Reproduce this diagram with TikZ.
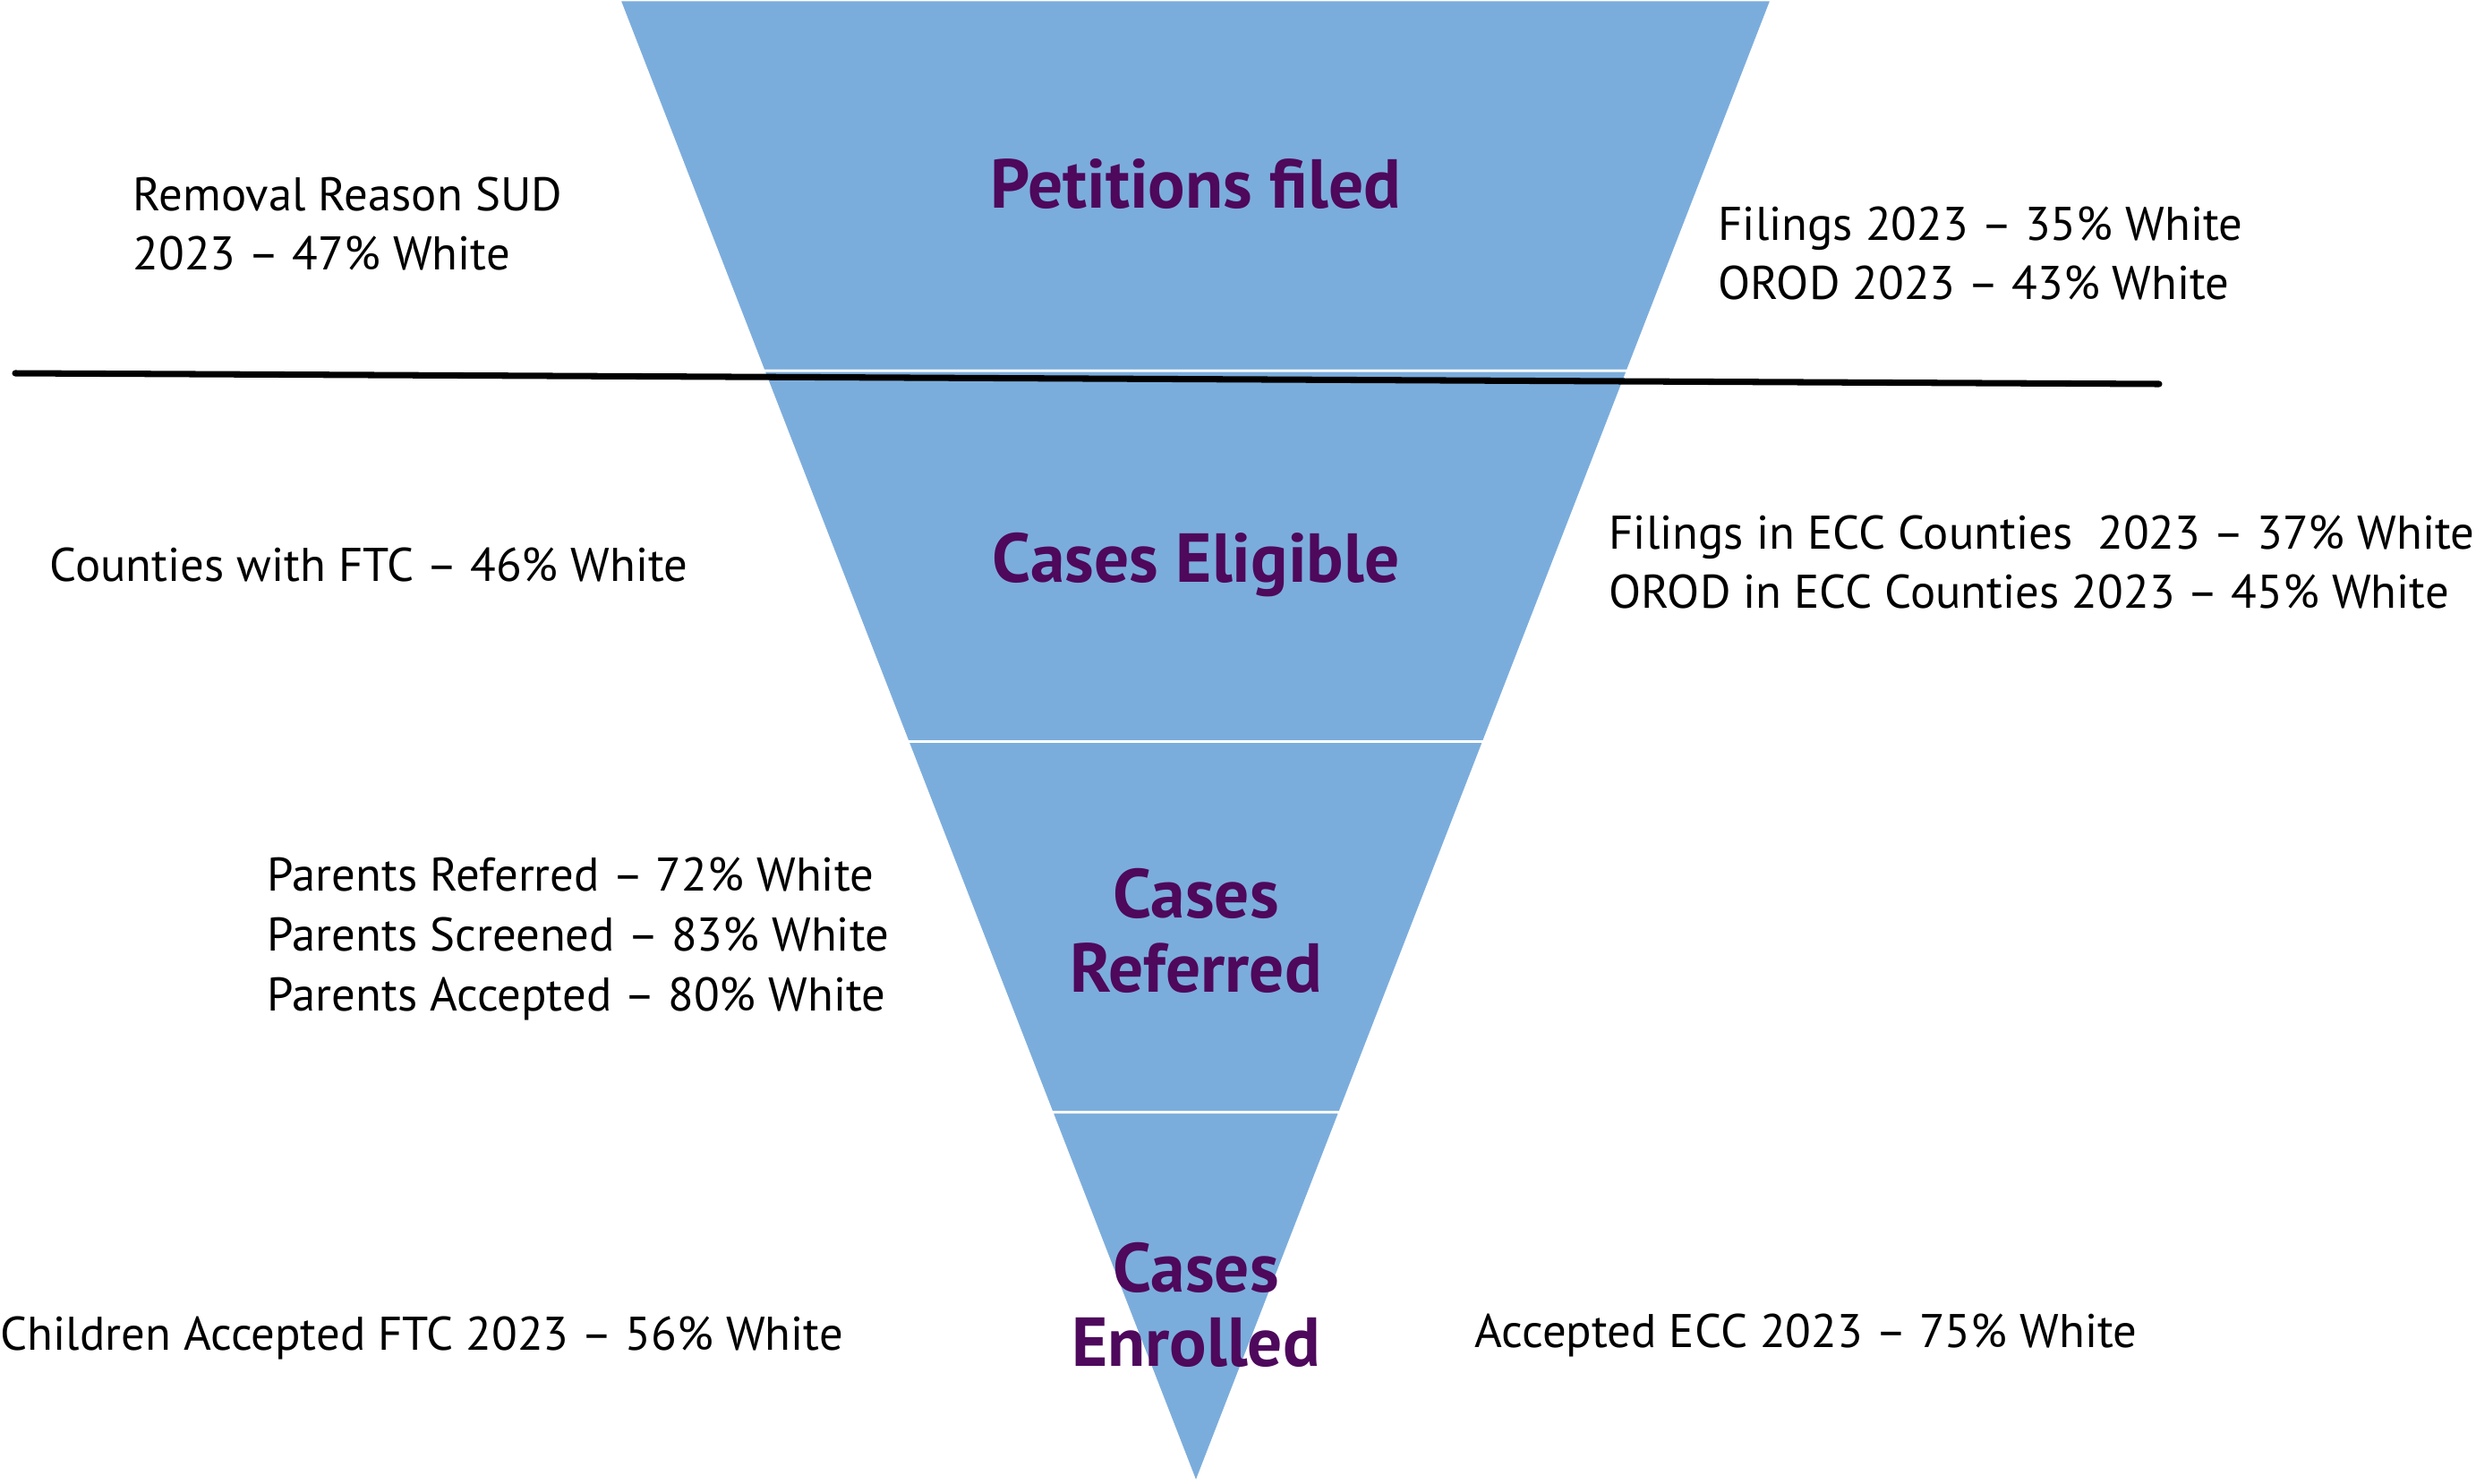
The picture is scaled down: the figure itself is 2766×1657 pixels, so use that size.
\documentclass[tikz,border=0pt]{standalone}
\usepackage{fontspec}
\setmainfont{PT Sans}
\usetikzlibrary{calc}
\definecolor{funnelblue}{RGB}{123,173,220}
\definecolor{titlepurple}{RGB}{78,8,92}
\begin{document}
\begin{tikzpicture}[x=0.01cm,y=-0.01cm,line join=round,line cap=round,
	stage/.style={fill=funnelblue,draw=white,line width=0.8pt},
	title/.style={font=\fontsize{22}{23.6}\selectfont\bfseries,text=titlepurple,align=center},
	note/.style={font=\fontsize{15}{19}\selectfont,anchor=west,align=left,inner sep=0pt}]
	\useasboundingbox (0,0) rectangle (2766,1657);
	\path
	(692,0) coordinate (L0)
	(1979,0) coordinate (R0)
	(1336,1657) coordinate (V)
	($(L0)!0.25!(V)$) coordinate (L1)
	($(R0)!0.25!(V)$) coordinate (R1)
	($(L0)!0.5!(V)$) coordinate (L2)
	($(R0)!0.5!(V)$) coordinate (R2)
	($(L0)!0.75!(V)$) coordinate (L3)
	($(R0)!0.75!(V)$) coordinate (R3)
	;
	\draw[stage] (L0)--(R0)--(R1)--(L1)--cycle;
	\draw[stage] (L1)--(R1)--(R2)--(L2)--cycle;
	\draw[stage] (L2)--(R2)--(R3)--(L3)--cycle;
	\draw[stage] (L3)--(R3)--(V)--cycle;
	\node[title] (petitions) at (1336,206) {Petitions filed};
	\node[title] (eligible) at (1336,631) {Cases Eligible};
	\node[title] (referred) at (1336,1040) {Cases\\Referred};
	\node[title] (enrolled) at (1336,1458) {Cases\\Enrolled};
	\path
	(17,417) coordinate (cutL)
	(2412,429) coordinate (cutR)
	;
	\draw[line width=2pt] (cutL)--(cutR);
	\node[note] (sud) at (148,250) {Removal Reason SUD\\2023 -- 47\% White};
	\node[note] (filings) at (1919,283) {Filings 2023 -- 35\% White\\OROD 2023 -- 43\% White};
	\node[note] (ftc) at (55,631) {Counties with FTC -- 46\% White};
	\node[note] (ecc) at (1797,628) {Filings in ECC Counties \ 2023 -- 37\% White\\OROD in ECC Counties 2023 -- 45\% White};
	\node[note] (parents) at (298,1049) {Parents Referred -- 72\% White\\Parents Screened -- 83\% White\\Parents Accepted -- 80\% White};
	\node[note] (children) at (0,1495) {Children Accepted FTC 2023 -- 56\% White};
	\node[note] (accepted) at (1647,1492) {Accepted ECC 2023 -- 75\% White};
\end{tikzpicture}
\end{document}
